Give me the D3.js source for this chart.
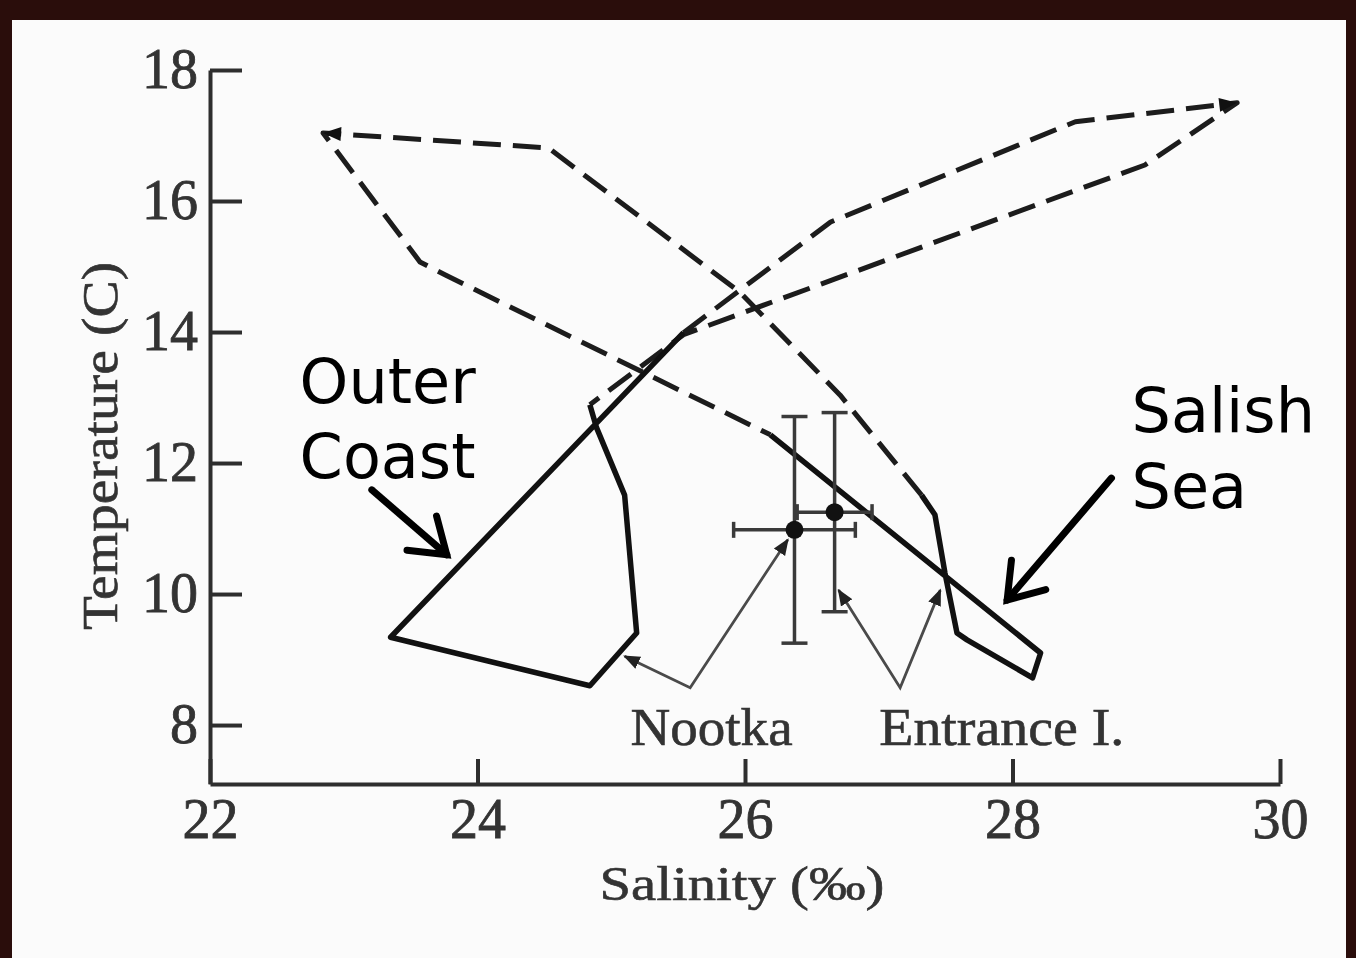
<!DOCTYPE html>
<html>
<head>
<meta charset="utf-8">
<script src="https://cdn.jsdelivr.net/npm/d3@7"></script>
<style>
body { margin: 0; background: #2a0d0b; }
svg { display: block; }
</style>
</head>
<body>
<svg id="chart" width="1356" height="958"></svg>
<script>
const salinityTicks = [22, 24, 26, 28, 30];
const temperatureTicks = [8, 10, 12, 14, 16, 18];

// Salish Sea (Entrance I.) T-S loop: [salinity, temperature]
const salishSolid = [[26.19, 12.43], [28.21, 9.10], [28.15, 8.72], [27.66, 9.30], [27.585, 9.405],
    [27.495, 10.32], [27.42, 11.21], [27.32, 11.51]];
const salishDashed = [[27.32, 11.51], [26.71, 13.04], [25.96, 14.61], [24.53, 16.81], [22.845, 17.04],
    [23.57, 15.07], [23.76, 14.87], [26.19, 12.43]];

// Outer Coast (Nootka) T-S loop
const outerSolid = [[24.84, 12.89], [24.89, 12.54], [25.10, 11.51], [25.19, 9.405], [24.84, 8.60],
    [23.35, 9.34], [25.54, 13.99]];
const outerDashed = [[25.54, 13.99], [26.64, 15.68], [28.47, 17.21], [29.68, 17.50], [28.99, 16.55],
    [25.54, 13.96], [24.84, 12.89]];

// station means with spread
const errorPoints = [
    { s: 26.37, t: 10.98, ds: 0.455, dt: 1.73 },
    { s: 26.67, t: 11.25, ds: 0.28, dt: 1.52 }
];

// direction arrows on the dashed loops: [from, to]
const loopArrows = [
    [[24.53, 16.81], [22.845, 17.04]],
    [[28.47, 17.21], [29.68, 17.50]]
];

// thin pointer lines from station names
const pointers = [
    [[25.10, 9.05], [25.59, 8.57], [26.32, 10.83]],
    [[26.70, 10.06], [27.16, 8.57], [27.46, 10.06]]
];
const stationLabels = [
    { text: "Nootka", s: 25.75, t: 7.70, len: 162 },
    { text: "Entrance I.", s: 27.92, t: 7.70, len: 245 }
];

// big region labels and their arrows
const regionLabels = [
    { lines: ["Outer", "Coast"], s: 22.67, t: [12.92, 11.77] },
    { lines: ["Salish", "Sea"], s: 28.89, t: [12.47, 11.31] }
];
const regionArrows = [
    [[23.21, 11.59], [23.77, 10.60]],
    [[28.74, 11.77], [27.96, 9.91]]
];

const svg = d3.select("#chart");
svg.append("rect").attr("x", 12).attr("y", 20).attr("width", 1334).attr("height", 938).attr("fill", "#fbfbfb");

const x = d3.scaleLinear().domain([22, 30]).range([210, 1280]);
const y = d3.scaleLinear().domain([7.1, 18]).range([784, 70]);

const serif = "'Liberation Serif', 'DejaVu Serif', serif";
const axisColor = "#2e2e2e";

// axes with inward ticks
let gx = svg.append("g").attr("transform", "translate(0,784)")
    .call(d3.axisBottom(x).tickValues(salinityTicks).tickSizeInner(-25).tickSizeOuter(0).tickPadding(14).tickFormat(d3.format("d")));
let gy = svg.append("g").attr("transform", "translate(210,0)")
    .call(d3.axisLeft(y).tickValues(temperatureTicks).tickSizeInner(-32).tickSizeOuter(0).tickPadding(12).tickFormat(d3.format("d")));

[gx, gy].forEach(g => {
    g.selectAll("path, line").attr("stroke", axisColor).attr("stroke-width", 4);
    g.selectAll("text").attr("font-family", serif).attr("font-size", 56).attr("fill", "#333")
        .attr("stroke", "#333").attr("stroke-width", 0.8);
});

svg.append("text")
    .attr("transform", "translate(117,446) rotate(-90)")
    .attr("text-anchor", "middle")
    .attr("font-family", serif).attr("font-size", 50).attr("fill", "#333")
    .attr("stroke", "#333").attr("stroke-width", 0.6)
    .attr("textLength", 368).attr("lengthAdjust", "spacingAndGlyphs")
    .text("Temperature (C)");

svg.append("text")
    .attr("x", 742).attr("y", 900)
    .attr("text-anchor", "middle")
    .attr("font-family", serif).attr("font-size", 48).attr("fill", "#333")
    .attr("stroke", "#333").attr("stroke-width", 0.6)
    .attr("textLength", 285).attr("lengthAdjust", "spacingAndGlyphs")
    .text("Salinity (‰)");

// T-S loops
let line = d3.line().x(d => x(d[0])).y(d => y(d[1]));

[salishDashed, outerDashed].forEach(pts => {
    svg.append("path").attr("d", line(pts))
        .attr("fill", "none").attr("stroke", "#1c1c1c").attr("stroke-width", 5)
        .attr("stroke-dasharray", "28,12").attr("stroke-linejoin", "round");
});
[salishSolid, outerSolid].forEach(pts => {
    svg.append("path").attr("d", line(pts))
        .attr("fill", "none").attr("stroke", "#111").attr("stroke-width", 5.5)
        .attr("stroke-linejoin", "round");
});

loopArrows.forEach(a => {
    let x0 = x(a[0][0]), y0 = y(a[0][1]), x1 = x(a[1][0]), y1 = y(a[1][1]);
    let ang = Math.atan2(y1 - y0, x1 - x0) * 180 / Math.PI;
    svg.append("path").attr("d", "M0,0 L-18,-7 L-18,7 Z")
        .attr("transform", `translate(${x1},${y1}) rotate(${ang})`)
        .attr("fill", "#111");
});

// error bars
errorPoints.forEach(p => {
    let g = svg.append("g").attr("stroke", "#3a3a3a").attr("stroke-width", 3.5);
    g.append("line").attr("x1", x(p.s)).attr("x2", x(p.s)).attr("y1", y(p.t + p.dt)).attr("y2", y(p.t - p.dt));
    g.append("line").attr("x1", x(p.s - p.ds)).attr("x2", x(p.s + p.ds)).attr("y1", y(p.t)).attr("y2", y(p.t));
    [p.t + p.dt, p.t - p.dt].forEach(v => {
        g.append("line").attr("x1", x(p.s) - 13).attr("x2", x(p.s) + 13).attr("y1", y(v)).attr("y2", y(v));
    });
    [p.s - p.ds, p.s + p.ds].forEach(v => {
        g.append("line").attr("x1", x(v)).attr("x2", x(v)).attr("y1", y(p.t) - 8).attr("y2", y(p.t) + 8);
    });
    svg.append("circle").attr("cx", x(p.s)).attr("cy", y(p.t)).attr("r", 9).attr("fill", "#111");
});

// pointer lines
svg.append("defs").append("marker")
    .attr("id", "tip").attr("viewBox", "0 -5 10 10").attr("refX", 9).attr("refY", 0)
    .attr("markerWidth", 6).attr("markerHeight", 6).attr("markerUnits", "strokeWidth")
    .attr("orient", "auto-start-reverse")
    .append("path").attr("d", "M0,-4L10,0L0,4Z").attr("fill", "#222");

pointers.forEach(pts => {
    svg.append("path").attr("d", line(pts))
        .attr("fill", "none").attr("stroke", "#4a4a4a").attr("stroke-width", 2.8)
        .attr("marker-start", "url(#tip)").attr("marker-end", "url(#tip)");
});

stationLabels.forEach(l => {
    svg.append("text").attr("x", x(l.s)).attr("y", y(l.t))
        .attr("text-anchor", "middle")
        .attr("font-family", serif).attr("font-size", 52).attr("fill", "#333")
        .attr("stroke", "#333").attr("stroke-width", 0.6)
        .attr("textLength", l.len).attr("lengthAdjust", "spacingAndGlyphs")
        .text(l.text);
});

// region labels
regionLabels.forEach(l => {
    l.lines.forEach((txt, i) => {
        svg.append("text").attr("x", x(l.s)).attr("y", y(l.t[i]))
            .attr("font-family", "'DejaVu Sans', Verdana, sans-serif").attr("font-size", 62).attr("fill", "#000")
            .text(txt);
    });
});

regionArrows.forEach(a => {
    let x0 = x(a[0][0]), y0 = y(a[0][1]), x1 = x(a[1][0]), y1 = y(a[1][1]);
    let ang = Math.atan2(y1 - y0, x1 - x0);
    let arm = 40, spread = 0.6;
    let g = svg.append("g").attr("stroke", "#000").attr("stroke-width", 7).attr("stroke-linecap", "round").attr("fill", "none");
    g.append("line").attr("x1", x0).attr("y1", y0).attr("x2", x1).attr("y2", y1);
    g.append("path").attr("d",
        `M${x1 - arm * Math.cos(ang - spread)},${y1 - arm * Math.sin(ang - spread)} L${x1},${y1} L${x1 - arm * Math.cos(ang + spread)},${y1 - arm * Math.sin(ang + spread)}`)
        .attr("stroke-linejoin", "miter");
});
</script>
</body>
</html>
